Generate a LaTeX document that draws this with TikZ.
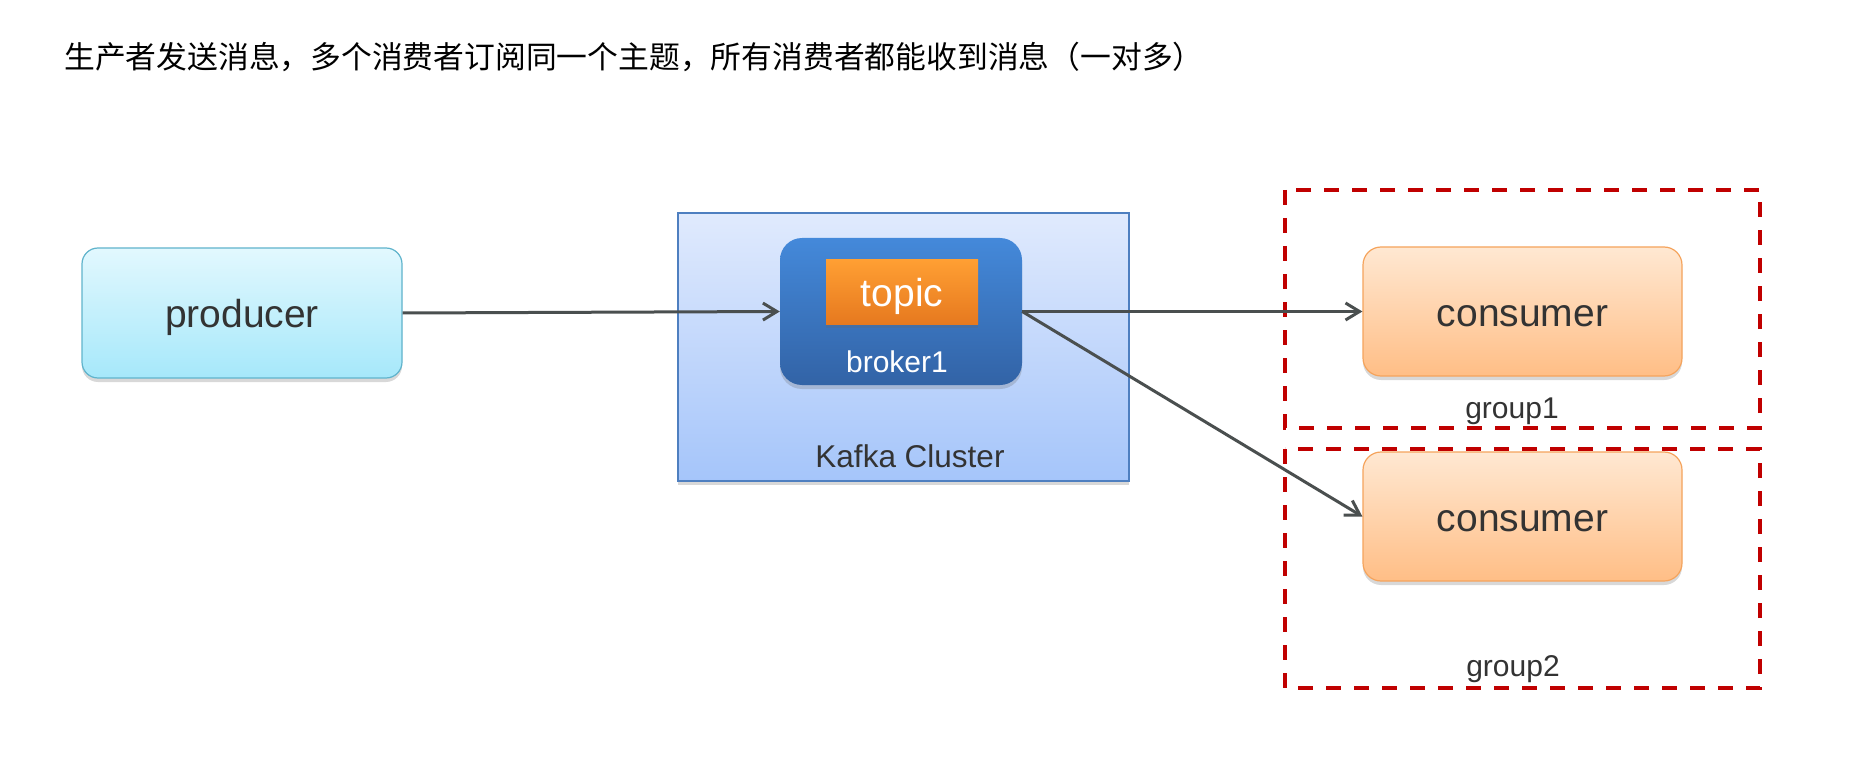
\documentclass[tikz,border=0pt]{standalone}
\usepackage{fontspec}
\setmainfont{Liberation Sans}
\newfontfamily\cjk{Noto Sans CJK SC}
\usetikzlibrary{arrows.meta,shadows}
\definecolor{txt}{HTML}{333333}
\definecolor{arrowc}{HTML}{4A4F4F}
\definecolor{grpred}{HTML}{C00000}
\tikzset{
  softshadow/.style={drop shadow={shadow xshift=0pt, shadow yshift=-4pt, opacity=0.25, fill=black!60}},
  prodbox/.style={draw={rgb,255:red,96;green,180;blue,204}, line width=1.2pt, rounded corners=16pt,
    top color={rgb,255:red,226;green,248;blue,254}, bottom color={rgb,255:red,166;green,232;blue,250},
    minimum width=320pt, minimum height=130pt, inner sep=0pt, softshadow,
    font=\fontsize{39}{45}\selectfont, text=txt, text height=36pt, text depth=8pt},
  consbox/.style={draw={rgb,255:red,245;green,164;blue,93}, line width=1.2pt, rounded corners=18pt,
    top color={rgb,255:red,255;green,232;blue,210}, bottom color={rgb,255:red,255;green,190;blue,134},
    minimum width=319pt, minimum height=129pt, inner sep=0pt, softshadow,
    font=\fontsize{39}{45}\selectfont, text=txt, text height=30pt, text depth=0pt},
  clusterbox/.style={draw={rgb,255:red,78;green,127;blue,192}, line width=1.5pt,
    top color={rgb,255:red,224;green,234;blue,253}, bottom color={rgb,255:red,165;green,197;blue,250},
    minimum width=451pt, minimum height=268pt, inner sep=0pt, softshadow},
  brokerbox/.style={draw=none, rounded corners=22pt,
    top color={rgb,255:red,68;green,137;blue,218}, bottom color={rgb,255:red,50;green,99;blue,166},
    minimum width=242pt, minimum height=147pt, inner sep=0pt, softshadow},
  topicbox/.style={draw=none,
    top color={rgb,255:red,255;green,159;blue,51}, bottom color={rgb,255:red,230;green,121;blue,31},
    minimum width=152pt, minimum height=64pt, inner sep=0pt, softshadow,
    font=\fontsize{39}{45}\selectfont, text=white, text height=37pt, text depth=8pt},
  smalllabel/.style={inner sep=0pt, font=\fontsize{30}{36}\selectfont},
  grpbox/.style={draw=grpred, line width=4pt, dash pattern=on 15pt off 13pt},
  flow/.style={draw=arrowc, line width=3pt, -{Straight Barb[length=14pt,width=17pt,line width=3pt]}},
}
\begin{document}
\begin{tikzpicture}[x=1pt,y=-1pt]
\useasboundingbox[fill=white] (0,0) rectangle (1856,778);
\node[anchor=west, inner sep=0pt, text=black, font=\cjk\fontsize{30.8}{36}\selectfont] (title) at (64,57)
  {生产者发送消息，多个消费者订阅同一个主题，所有消费者都能收到消息（一对多）};

\node[prodbox] (producer) at (242,313) {producer};

\node[clusterbox] (cluster) at (903.5,347) {};
\node[brokerbox] (broker) at (901,311.5) {};
\node[topicbox] (topic) at (902,292) {topic};
\node[smalllabel, text=white] (brokerlbl) at (897,362) {broker1};
\node[smalllabel, text=txt, font=\fontsize{31.5}{36}\selectfont] (clusterlbl) at (910,456) {Kafka Cluster};

\coordinate (g1a) at (1285,190);
\coordinate (g1b) at (1760,428);
\coordinate (g2a) at (1285,449);
\coordinate (g2b) at (1760,688);
\draw[grpbox] (g1a) rectangle (g1b);
\draw[grpbox] (g2a) rectangle (g2b);

\node[consbox] (cons1) at (1522.5,311.5) {consumer};
\node[consbox] (cons2) at (1522.5,516.5) {consumer};

\node[smalllabel, text=txt] (grp1) at (1512,411) {group1};
\node[smalllabel, text=txt] (grp2) at (1513,669) {group2};

\draw[flow] (producer.east) -- (broker.west);
\draw[flow] (broker.east) -- (cons1.west);
\draw[flow] (broker.east) -- (cons2.west);
\end{tikzpicture}
\end{document}
